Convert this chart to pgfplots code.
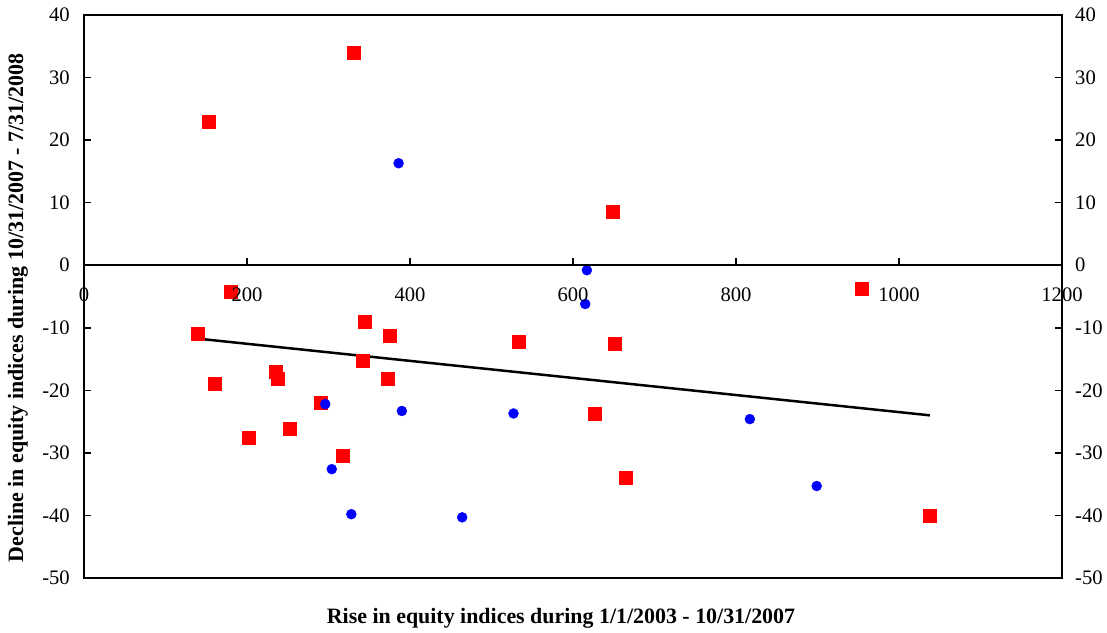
\documentclass[border=0pt]{standalone}
\usepackage{pgfplots}
\pgfplotsset{compat=1.18}
\usepackage{fontspec}
\setmainfont{Liberation Serif}

\begin{document}
\begin{tikzpicture}
\path[use as bounding box] (-84bp,-55bp) rectangle (1023bp,578bp);
\begin{axis}[
  scale only axis, width=978bp, height=563bp,
  xmin=0, xmax=1200, ymin=-50, ymax=40,
  axis line style={line width=1.6bp},
  every tick/.style={black, line width=1.6bp},
  major tick length=7bp,
  xtick=\empty, ytick={-50,-40,...,40},
  ytick pos=both, yticklabel pos=left,
  tick align=inside,
  /pgf/number format/assume math mode=true,
  tick label style={font=\fontsize{20.7}{24}\selectfont, inner sep=0pt},
  yticklabel style={anchor=east, xshift=-14bp},
  clip=false,
]
\addplot[black, line width=2.5bp, mark=none] coordinates {(137,-11.7) (1038,-24.0)};
\addplot[only marks, mark=square*, mark size=6.5bp, color=red, mark options={fill=red, draw=red}] coordinates {
(153,22.9) (331,33.9) (180,-4.3) (140,-10.9) (344,-9.1) (375,-11.2)
(342,-15.2) (235,-17.1) (238,-18.1) (373,-18.2) (160,-19.0) (291,-21.9)
(253,-26.1) (202,-27.5) (317,-30.5) (649,8.6) (533,-12.3) (651,-12.5)
(627,-23.8) (665,-34.0) (954,-3.8) (1038,-40.0)
};
\addplot[only marks, mark=*, mark size=5bp, color=blue, mark options={fill=blue, draw=blue}] coordinates {
(386,16.3) (617,-0.8) (615,-6.2) (296,-22.2) (390,-23.3) (304,-32.6)
(328,-39.8) (464,-40.3) (527,-23.7) (817,-24.6) (899,-35.3)
};
\end{axis}
% x axis line at y = 0 with ticks pointing up
\begin{axis}[
  at={(0bp,312.8bp)}, anchor=south west,
  scale only axis, width=978bp, height=250.2bp,
  xmin=0, xmax=1200, ymin=0, ymax=40,
  axis x line=bottom, axis y line=none,
  x axis line style={-, line width=1.6bp},
  every tick/.style={black, line width=1.6bp},
  major tick length=7bp,
  xtick={0,200,...,1200},
  hide obscured x ticks=false,
  xtick align=inside,
  /pgf/number format/assume math mode=true,
  /pgf/number format/1000 sep={},
  tick label style={font=\fontsize{20.7}{24}\selectfont, inner sep=0pt},
  xticklabel style={anchor=north, yshift=-22bp},
]
\addplot[draw=none] coordinates {(0,0)};
\end{axis}
% right-hand tick labels
\begin{axis}[
  scale only axis, width=978bp, height=563bp,
  xmin=0, xmax=1200, ymin=-50, ymax=40,
  axis x line=none, axis y line*=right,
  y axis line style={draw=none},
  ytick={-50,-40,...,40}, major tick length=0pt,
  /pgf/number format/assume math mode=true,
  tick label style={font=\fontsize{20.7}{24}\selectfont, inner sep=0pt},
  yticklabel style={anchor=west, xshift=13bp},
]
\addplot[draw=none] coordinates {(0,0)};
\end{axis}
\node[rotate=90, font=\bfseries\fontsize{22}{24}\selectfont] at (-66bp,270bp) {Decline in equity indices during 10/31/2007 - 7/31/2008};
\node[font=\bfseries\fontsize{22}{24}\selectfont] at (477bp,-40bp) {Rise in equity indices during 1/1/2003 - 10/31/2007};
\end{tikzpicture}
\end{document}
